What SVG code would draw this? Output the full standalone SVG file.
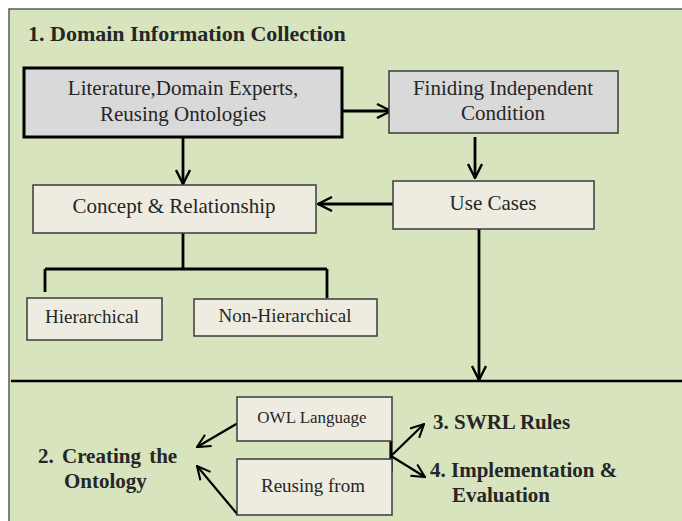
<svg xmlns="http://www.w3.org/2000/svg" width="682" height="521" viewBox="0 0 682 521">
<style>
.bg{fill:#D7E4BD;stroke:#595959;stroke-width:1.5}
.grey{fill:#D9D9D9;stroke:#3a3a3a;stroke-width:1.5}
.tan{fill:#EEECE1;stroke:#3a3a3a;stroke-width:1.5}
.t{font-family:"Liberation Serif","Times New Roman",serif;fill:#262626;text-anchor:middle}
.b{font-family:"Liberation Serif","Times New Roman",serif;fill:#262626;font-weight:bold}
.c{fill:none;stroke:#000;stroke-width:2.8}
.c2{fill:none;stroke:#000;stroke-width:2.2}
</style>
<defs>
<marker id="ah" viewBox="0 0 16 16" refX="15" refY="8" markerWidth="16" markerHeight="16" markerUnits="userSpaceOnUse" orient="auto">
<path d="M1,1 L15,8 L1,15" fill="none" stroke="#000" stroke-width="2.4"/>
</marker>
<marker id="ah2" viewBox="0 0 16 16" refX="15" refY="8" markerWidth="15" markerHeight="15" markerUnits="userSpaceOnUse" orient="auto">
<path d="M1,1 L15,8 L1,15" fill="none" stroke="#000" stroke-width="2.2"/>
</marker>
</defs>
<rect class="bg" x="9" y="9" width="700" height="540"/>
<text class="b" x="28" y="41" font-size="22">1. Domain Information Collection</text>

<g id="connectors">
<path class="c" d="M342,111 H391" marker-end="url(#ah)"/>
<path class="c" d="M183,137 V184" marker-end="url(#ah)"/>
<path class="c" d="M475,137 V178" marker-end="url(#ah)"/>
<path class="c" d="M393,204 H318" marker-end="url(#ah)"/>
<path class="c" d="M183,233 V269 M45,269 H327 M45,269 V292 M327,269 V298"/>
<path class="c" d="M479,229 V380" marker-end="url(#ah)"/>
<path d="M11,381 H682" stroke="#000" stroke-width="2.5"/>
<path class="c2" d="M238,423 L197,447" marker-end="url(#ah2)"/>
<path class="c2" d="M238,515 L197,466" marker-end="url(#ah2)"/>
<path d="M391,441 V472" stroke="#000" stroke-width="3.2"/>
<path class="c2" d="M391,456 L424,424" marker-end="url(#ah2)"/>
<path class="c2" d="M391,456 L425,477" marker-end="url(#ah2)"/>
</g>

<g id="lit">
<rect x="24" y="68" width="318" height="69" fill="#D9D9D9" stroke="#000" stroke-width="3"/>
<text class="t" x="183" y="95" font-size="21">Literature,Domain Experts,</text>
<text class="t" x="183" y="121" font-size="21">Reusing Ontologies</text>
</g>
<g id="finding">
<rect class="grey" x="389" y="71" width="229" height="62"/>
<text class="t" x="503" y="95" font-size="21">Finiding Independent</text>
<text class="t" x="503" y="120" font-size="21">Condition</text>
</g>
<g id="concept">
<rect class="tan" x="33" y="185" width="283" height="48"/>
<text class="t" x="174" y="213" font-size="21">Concept &amp; Relationship</text>
</g>
<g id="usecases">
<rect class="tan" x="393" y="181" width="201" height="48"/>
<text class="t" x="493" y="210" font-size="21">Use Cases</text>
</g>
<g id="hier">
<rect class="tan" x="27" y="298" width="135" height="42"/>
<text class="t" x="92" y="323" font-size="19">Hierarchical</text>
</g>
<g id="nonhier">
<rect class="tan" x="194" y="299" width="183" height="37"/>
<text class="t" x="285" y="322" font-size="19">Non-Hierarchical</text>
</g>
<g id="owl">
<rect class="tan" x="237" y="397" width="155" height="44"/>
<text class="t" x="312" y="423" font-size="17">OWL Language</text>
</g>
<g id="reusing">
<rect class="tan" x="237" y="459" width="155" height="56"/>
<text class="t" x="313" y="492" font-size="19">Reusing from</text>
</g>
<g id="creating">
<text class="b" x="38" y="463" font-size="21" word-spacing="3">2. Creating the</text>
<text class="b" x="64" y="488" font-size="21">Ontology</text>
</g>
<g id="swrl">
<text class="b" x="433" y="429" font-size="21">3. SWRL Rules</text>
</g>
<g id="impl">
<text class="b" x="430" y="477" font-size="21">4. Implementation &amp;</text>
<text class="b" x="452" y="502" font-size="21">Evaluation</text>
</g>
</svg>
